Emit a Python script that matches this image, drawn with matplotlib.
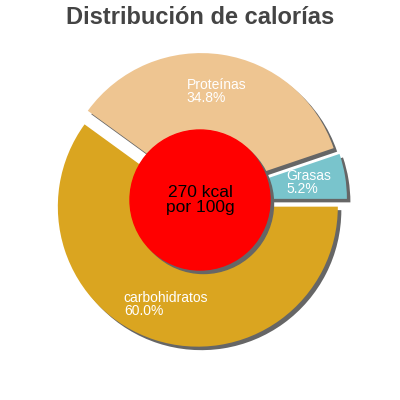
import numpy as np
import matplotlib.pyplot as plt
from matplotlib.patches import Circle

plt.rcParams['font.family'] = ['Liberation Sans', 'DejaVu Sans']

# datos del gráfico
etiquetas = ['carbohidratos', 'Proteínas', 'Grasas']
valores = [60.0, 34.8, 5.2]
colores = ['#DAA520', '#EEC591', '#79C4CC']
titulo = 'Distribución de calorías'
texto_centro = '270 kcal\npor 100g'

explode = [0.05] * len(valores)
R = 1.0
px = 140.0  # pixeles por unidad

fig = plt.figure(figsize=(4, 4), dpi=100)
ax = fig.add_axes([0, 0, 1, 1])

# sombra
sh = 3.5 / px
ax.pie(valores, radius=R, explode=explode, startangle=0, counterclock=False,
       colors=['#666666'] * len(valores), center=(sh, -sh), frame=True)
# tartas
wedges, _ = ax.pie(valores, radius=R, explode=explode, startangle=0,
                   counterclock=False, colors=colores, frame=True)
ax.set_xlim(-200 / px, 200 / px)
ax.set_ylim(-200 / px, 200 / px)
ax.set_aspect('equal')
ax.axis('off')

for w, et, v, e in zip(wedges, etiquetas, valores, explode):
    ang = np.deg2rad((w.theta1 + w.theta2) / 2)
    r = 0.735 + e
    ax.text(r * np.cos(ang), r * np.sin(ang), f'{et}\n{v:.1f}%',
            ha='center', va='center', multialignment='left',
            color='white', fontsize=10, linespacing=0.9)

# círculo central
ax.add_patch(Circle((sh, -sh), 0.5, color='#666666', zorder=5))
ax.add_patch(Circle((0, 0), 0.5, color='#FF0000', zorder=6))
ax.text(0, 0, texto_centro, ha='center', va='center', fontsize=12.5,
        color='black', zorder=7, linespacing=1.05)

fig.text(0.5, 0.955, titulo, ha='center', va='center', fontsize=17,
         fontweight='bold', color='#444444')

fig.savefig('out.png', dpi=100)
